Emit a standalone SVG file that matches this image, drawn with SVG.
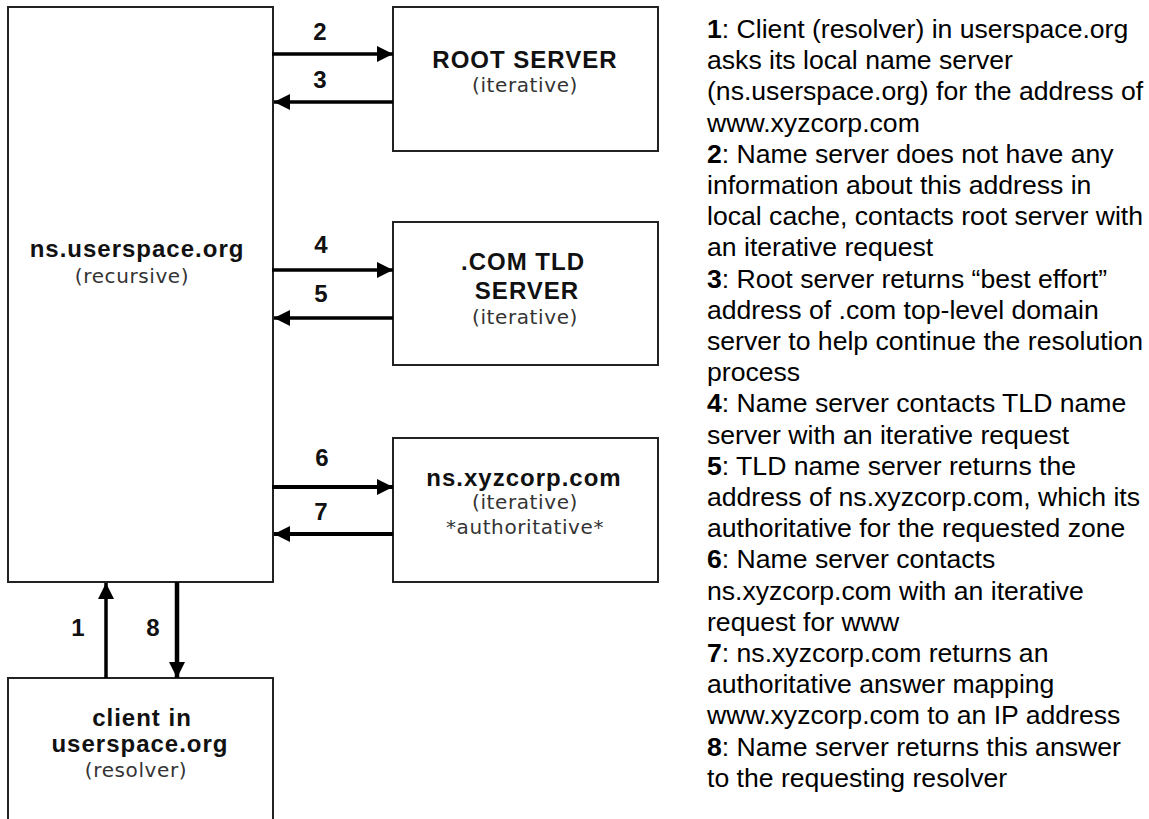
<svg xmlns="http://www.w3.org/2000/svg" width="1149" height="819" viewBox="0 0 1149 819">
  <style>
    .box { fill: #ffffff; stroke: #222222; stroke-width: 2; }
    .title { font-family: "Liberation Sans", Arial, sans-serif; font-weight: bold; font-size: 24px; letter-spacing: 1px; fill: #111111; text-anchor: middle; }
    .sub { font-family: "DejaVu Sans", Verdana, sans-serif; font-size: 20px; letter-spacing: 0.6px; fill: #333333; text-anchor: middle; }
    .num { font-family: "Liberation Sans", Arial, sans-serif; font-weight: bold; font-size: 24px; fill: #111111; text-anchor: middle; }
    .flow { stroke: #000000; stroke-width: 3.5; fill: none; marker-end: url(#head); }
    .notes { font-family: "Liberation Sans", Arial, sans-serif; font-size: 26.6px; fill: #000000; }
    .notes .k { font-weight: bold; }
  </style>
  <defs>
    <marker id="head" viewBox="0 0 16 16" refX="16" refY="8" markerWidth="16" markerHeight="16" markerUnits="userSpaceOnUse" orient="auto">
      <path d="M0,0 L16,8 L0,16 z" fill="#000000"/>
    </marker>
  </defs>
  <rect width="1149" height="819" fill="#ffffff"/>

  <!-- local recursive name server -->
  <g id="ns-userspace">
    <rect class="box" x="8" y="7" width="265" height="575"/>
    <text class="title" x="137" y="257">ns.userspace.org</text>
    <text class="sub" x="132" y="283">(recursive)</text>
  </g>

  <!-- root server -->
  <g id="root-server">
    <rect class="box" x="393" y="7" width="265" height="144"/>
    <text class="title" x="525" y="68">ROOT SERVER</text>
    <text class="sub" x="525" y="92">(iterative)</text>
  </g>

  <!-- .com top-level domain server -->
  <g id="tld-server">
    <rect class="box" x="393" y="222" width="265" height="143"/>
    <text class="title" x="523" y="270">.COM TLD</text>
    <text class="title" x="527" y="299">SERVER</text>
    <text class="sub" x="525" y="324">(iterative)</text>
  </g>

  <!-- authoritative server for xyzcorp.com -->
  <g id="ns-xyzcorp">
    <rect class="box" x="393" y="438" width="265" height="144"/>
    <text class="title" x="524" y="486">ns.xyzcorp.com</text>
    <text class="sub" x="525" y="509">(iterative)</text>
    <text class="sub" x="525" y="534">*authoritative*</text>
  </g>

  <!-- client resolver (box runs off the bottom edge) -->
  <g id="client">
    <rect class="box" x="8" y="678" width="265" height="160"/>
    <text class="title" x="142" y="726">client in</text>
    <text class="title" x="140" y="752">userspace.org</text>
    <text class="sub" x="136" y="777">(resolver)</text>
  </g>

  <!-- query / response arrows -->
  <g id="connectors">
    <line class="flow" x1="272" y1="54" x2="393" y2="54"/>
    <line class="flow" x1="393" y1="102" x2="274" y2="102"/>
    <line class="flow" x1="272" y1="270" x2="393" y2="270"/>
    <line class="flow" x1="393" y1="318" x2="274" y2="318"/>
    <line class="flow" x1="272" y1="487" x2="393" y2="487" style="stroke-width:4"/>
    <line class="flow" x1="393" y1="534" x2="274" y2="534" style="stroke-width:4"/>
    <line class="flow" x1="106" y1="678" x2="106" y2="583"/>
    <line class="flow" x1="177" y1="582" x2="177" y2="678" style="stroke-width:4.5"/>
    <text class="num" x="320" y="40">2</text>
    <text class="num" x="320" y="88">3</text>
    <text class="num" x="321" y="253">4</text>
    <text class="num" x="321" y="302">5</text>
    <text class="num" x="322" y="466">6</text>
    <text class="num" x="321" y="520">7</text>
    <text class="num" x="78" y="636">1</text>
    <text class="num" x="153" y="636">8</text>
  </g>

  <!-- step descriptions -->
  <g id="legend">
    <text class="notes" x="707" y="38">
      <tspan x="707" y="38"><tspan class="k">1</tspan>: Client (resolver) in userspace.org</tspan>
      <tspan x="707" dy="31.2">asks its local name server</tspan>
      <tspan x="707" dy="31.2">(ns.userspace.org) for the address of</tspan>
      <tspan x="707" dy="31.2">www.xyzcorp.com</tspan>
      <tspan x="707" dy="31.2"><tspan class="k">2</tspan>: Name server does not have any</tspan>
      <tspan x="707" dy="31.2">information about this address in</tspan>
      <tspan x="707" dy="31.2">local cache, contacts root server with</tspan>
      <tspan x="707" dy="31.2">an iterative request</tspan>
      <tspan x="707" dy="31.2"><tspan class="k">3</tspan>: Root server returns “best effort”</tspan>
      <tspan x="707" dy="31.2">address of .com top-level domain</tspan>
      <tspan x="707" dy="31.2">server to help continue the resolution</tspan>
      <tspan x="707" dy="31.2">process</tspan>
      <tspan x="707" dy="31.2"><tspan class="k">4</tspan>: Name server contacts TLD name</tspan>
      <tspan x="707" dy="31.2">server with an iterative request</tspan>
      <tspan x="707" dy="31.2"><tspan class="k">5</tspan>: TLD name server returns the</tspan>
      <tspan x="707" dy="31.2">address of ns.xyzcorp.com, which its</tspan>
      <tspan x="707" dy="31.2">authoritative for the requested zone</tspan>
      <tspan x="707" dy="31.2"><tspan class="k">6</tspan>: Name server contacts</tspan>
      <tspan x="707" dy="31.2">ns.xyzcorp.com with an iterative</tspan>
      <tspan x="707" dy="31.2">request for www</tspan>
      <tspan x="707" dy="31.2"><tspan class="k">7</tspan>: ns.xyzcorp.com returns an</tspan>
      <tspan x="707" dy="31.2">authoritative answer mapping</tspan>
      <tspan x="707" dy="31.2">www.xyzcorp.com to an IP address</tspan>
      <tspan x="707" dy="31.2"><tspan class="k">8</tspan>: Name server returns this answer</tspan>
      <tspan x="707" dy="31.2">to the requesting resolver</tspan>
    </text>
  </g>
</svg>
